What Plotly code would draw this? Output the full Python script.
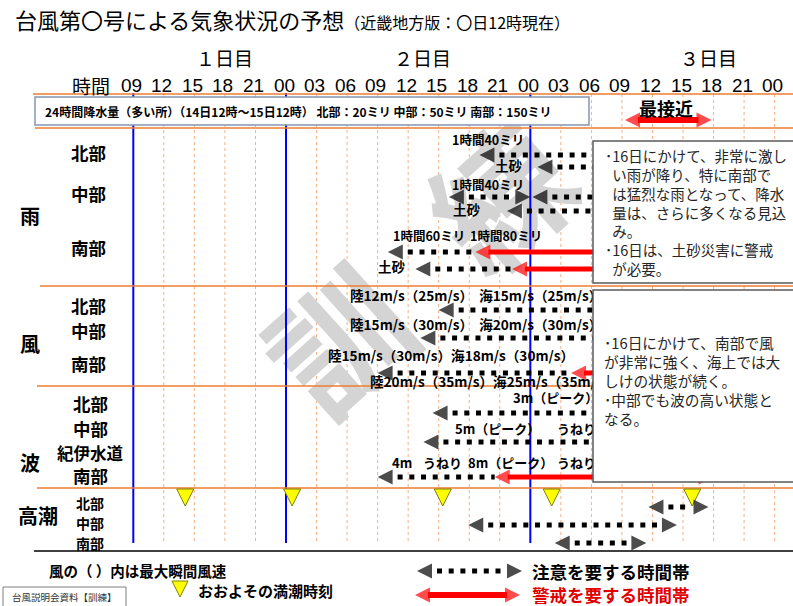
import plotly.graph_objects as go

W, H = 793, 606
PXH = 10.18                    # pixels per hour on the time axis
X_LO = 24 - 286 / PXH          # day-2 00:00 sits at x = 286 px
X_HI = X_LO + W / PXH
JP = "Noto Sans CJK JP"
NUM = "Liberation Sans Narrow, Liberation Sans, sans-serif"
ORANGE = "#ed7d31"
GRID = "#f4b183"
RED = "#ff0000"
BLUE = "#0000ff"

# ── time axis ──
tick_hours = [9, 12, 15, 18, 21, 24, 27, 30, 33, 36, 39, 42, 45, 48, 51, 54, 57, 60, 63, 66, 69, 72]
tick_labels = ['09', '12', '15', '18', '21', '00', '03', '06', '09', '12', '15', '18', '21',
               '00', '03', '06', '09', '12', '15', '18', '21', '00']
day_labels = ['１日目', '２日目', '３日目']
blue_hours = [9, 24, 48]       # 現在 + 日付の変わり目

# ── areas ──
rain_areas = ['北部', '中部', '南部']
wind_areas = ['北部', '中部', '南部']
wave_areas = ['北部', '中部', '紀伊水道', '南部']
tide_areas = ['北部', '中部', '南部']

# ── time bands (hours counted from day-1 00:00) ──
rain_attention = [(43, 66), (48.7, 66), (40, 48), (48.2, 66), (45.7, 66), (34, 42.6), (36.7, 46.2)]
rain_warning = [None, None, None, None, None, (42.6, 66), (46.2, 66)]
wind_attention = [(39, 66), (37.2, 66), (33, 52)]
wind_warning = [None, None, (52, 66)]
wave_attention = [(38.4, 66), (37.5, 66), (33, 44.5)]
wave_warning = [None, None, (44.5, 66)]
tide_attention = [(59.6, 65.5), (41.9, 62.4), (50.4, 59.4)]
high_tide_hours = [14.1, 24.6, 39.4, 50.1, 63.9]
closest_approach = (57.3, 65.8)

# ── notes ──
rain_total = '24時間降水量（多い所）（14日12時～15日12時） 北部：20ミリ 中部：50ミリ 南部：150ミリ'
rain_notes = ['1時間40ミリ', '土砂', '1時間40ミリ', '土砂', '1時間60ミリ', '1時間80ミリ', '土砂']
wind_notes = ['陸12m/s（25m/s）  海15m/s（25m/s）', '陸15m/s（30m/s）  海20m/s（30m/s）',
              '陸15m/s（30m/s）海18m/s（30m/s）', '陸20m/s（35m/s）海25m/s（35m/s）']
wave_notes = ['3m（ピーク）', '5m（ピーク）', 'うねり', '4m', 'うねり', '8m（ピーク）', 'うねり']
rain_comment = ['･16日にかけて、非常に激し', '\u2002い雨が降り、特に南部で', '\u2002は猛烈な雨となって、降水',
                '\u2002量は、さらに多くなる見込', '\u2002み。', '･16日は、土砂災害に警戒', '\u2002が必要。']
wind_comment = ['･16日にかけて、南部で風', 'が非常に強く、海上では大', 'しけの状態が続く。',
                '･中部でも波の高い状態と', 'なる。']

# ── layout positions (px) ──
rain_rows_y = [155, 167, 197, 197, 211, 252, 269]
wind_rows_y = [310, 338, 373]
wave_rows_y = [413, 442, 477]
tide_rows_y = [507, 525, 543]
rain_note_xy = [(452, 142), (495, 168), (452, 187), (453, 212), (393, 238), (470, 238), (378, 269)]
wind_note_xy = [(350, 298), (350, 327), (328, 358), (370, 384)]
wave_note_xy = [(513, 400), (455, 431), (557, 431), (392, 465), (423, 465), (468, 465), (557, 465)]

fig = go.Figure()


def band(x0, x1, y, warn=False, left=True, right=True, xa='x', scale=PXH, width=5):
    head = 15
    color = RED if warn else 'black'
    if warn:
        a = x0 + (head - 2) / scale if left else x0
        b = x1 - (head - 2) / scale if right else x1
        line = dict(color=color, width=width)
    else:
        a = x0 + (head + 5) / scale if left else x0
        b = x1 - (head + 3) / scale if right else x1
        line = dict(color=color, width=5, dash='5px,6.7px')
    fig.add_scatter(x=[a, b], y=[y, y], xaxis=xa, mode='lines', line=line, hoverinfo='skip')
    fig.add_scatter(x=[x0, x1], y=[y, y], xaxis=xa, mode='markers', hoverinfo='skip',
                    marker=dict(symbol=['arrow-left', 'arrow-right'],
                                size=[head if left else 0, head if right else 0],
                                color=color, line_width=0))


def text_trace(xy, texts, size):
    fig.add_scatter(x=[p[0] for p in xy], y=[p[1] for p in xy], xaxis='x2', mode='text',
                    text=texts, textposition='middle right', hoverinfo='skip',
                    textfont=dict(family=JP, size=size, color='black', weight='bold'))


def label(x, y, text, size, bold=True, color='black', xanchor='center', family=JP, xref='x2', xshift=0):
    fig.add_annotation(x=x, y=y, xref=xref, yref='y', text=text, showarrow=False,
                       xanchor=xanchor, yanchor='middle', xshift=xshift,
                       font=dict(family=family, size=size, color=color,
                                 weight='bold' if bold else 'normal'))


# ── background shapes: grid, watermark, day lines, separators ──
shapes = []
for h in tick_hours:
    if h not in blue_hours:
        shapes.append(dict(type='line', xref='x', yref='y', x0=h, x1=h, y0=94, y1=543,
                           line=dict(color=GRID, width=1, dash='dot'), layer='below'))
for ch, cx, cy in [('訓', 350, 352), ('練', 512, 208)]:
    shapes.append(dict(type='rect', xref='x2', yref='y', x0=cx - 60, x1=cx + 60, y0=cy - 60, y1=cy + 60,
                       line=dict(width=0), fillcolor='rgba(0,0,0,0)', layer='below',
                       label=dict(text=ch, textangle=-42, textposition='middle center',
                                  font=dict(family=JP, size=136, color='#d4d4d4', weight='bold'))))
for h in blue_hours:
    shapes.append(dict(type='line', xref='x', yref='y', x0=h, x1=h, y0=93, y1=543,
                       line=dict(color=BLUE, width=2), layer='below'))
for x0, y in [(33, 94), (35, 128), (40, 286), (37, 386), (37, 488)]:
    shapes.append(dict(type='line', xref='x2', yref='y', x0=x0, x1=W, y0=y, y1=y,
                       line=dict(color=ORANGE, width=1.5), layer='below'))
shapes.append(dict(type='line', xref='x2', yref='y', x0=34, x1=W, y0=551, y1=551,
                   line=dict(color='black', width=1.5), layer='below'))

# ── boxes on top of the bands ──
shapes.append(dict(type='rect', xref='x2', yref='y', x0=35, x1=589, y0=97, y1=125,
                   line=dict(color='#8497b0', width=1.5), fillcolor='white', layer='above'))
shapes.append(dict(type='rect', xref='x2', yref='y', x0=593, x1=797, y0=141, y1=283,
                   line=dict(color='#595959', width=1.5), fillcolor='white', layer='above'))
shapes.append(dict(type='rect', xref='x2', yref='y', x0=593, x1=797, y0=290, y1=482,
                   line=dict(color='#595959', width=1.5), fillcolor='white', layer='above'))
shapes.append(dict(type='rect', xref='x2', yref='y', x0=3, x1=126, y0=587, y1=608,
                   line=dict(color='#7f7f7f', width=1), fillcolor='white', layer='above'))

# ── high-tide marks (under the arrows) ──
fig.add_scatter(x=high_tide_hours, y=[506] * len(high_tide_hours), mode='markers', hoverinfo='skip',
                marker=dict(symbol='arrow-down', size=17, color='#ffff00',
                            line=dict(color='#808000', width=1)))

# ── arrows ──
for rows_y, att, warn in [(rain_rows_y, rain_attention, rain_warning),
                          (wind_rows_y, wind_attention, wind_warning),
                          (wave_rows_y, wave_attention, wave_warning)]:
    for y, a, w in zip(rows_y, att, warn):
        band(a[0], a[1], y, right=w is None)
        if w is not None:
            band(w[0], w[1], y, warn=True)
for y, a in zip(tide_rows_y, tide_attention):
    band(a[0], a[1], y)
band(closest_approach[0], closest_approach[1], 120, warn=True, width=6)

# ── notes next to the arrows (drawn under the boxes) ──
text_trace(rain_note_xy, rain_notes, 12.5)
fig.data[-1].textfont.size = [12.5, 13.5, 12.5, 13.5, 12.5, 12.5, 13.5]
text_trace(wind_note_xy, wind_notes, 13.6)
text_trace(wave_note_xy, wave_notes, 13)

# ── legend glyphs ──
band(417, 522, 571, xa='x2', scale=1)
band(415, 520, 595, warn=True, xa='x2', scale=1, width=6)
fig.add_scatter(x=[180], y=[597], xaxis='x2', mode='markers', hoverinfo='skip',
                marker=dict(symbol='arrow-down', size=16, color='#ffff00',
                            line=dict(color='#808000', width=1)))

# ── header ──
label(13, 19, '台風第〇号による気象状況の予想<span style="font-size:16px">（近畿地方版：〇日12時現在）</span>',
      22, bold=False, xanchor='left')
for t, x in zip(day_labels, [224, 422, 708]):
    label(x, 57, t, 19, bold=False)
label(91, 85, '時間', 19, bold=False)
for h, t in zip(tick_hours, tick_labels):
    label(h, 85, t, 19, bold=False, family=NUM, xref='x', xshift=-2)
label(43, 111, rain_total, 12, xanchor='left')
label(666, 108, '最接近', 18)

# ── row labels ──
label(30, 215, '雨', 20)
for t, y in zip(rain_areas, [152, 193, 247]):
    label(88, y, t, 17.5)
label(30, 343, '風', 20)
for t, y in zip(wind_areas, [305, 330, 363]):
    label(88, y, t, 17.5)
label(30, 462, '波', 20)
for t, y in zip(wave_areas, [403, 428, 453, 475]):
    label(90, y, t, 16.5 if len(t) > 2 else 17.5)
label(38, 515, '高潮', 20)
for t, y in zip(tide_areas, [503, 523, 543]):
    label(90, y, t, 14)

# ── comment boxes ──
fig.add_annotation(x=603, y=211.5, xref='x2', yref='y', text='<br>'.join(rain_comment), showarrow=False,
                   xanchor='left', yanchor='middle', align='left',
                   font=dict(family=JP, size=14.5, color='#262626'))
fig.add_annotation(x=602, y=380, xref='x2', yref='y', text='<br>'.join(wind_comment), showarrow=False,
                   xanchor='left', yanchor='middle', align='left',
                   font=dict(family=JP, size=14.7, color='#262626'))

# ── legend texts ──
label(47, 570, '風の（ ）内は最大瞬間風速', 14.5, xanchor='left')
label(196, 590, 'おおよその満潮時刻', 15, xanchor='left')
label(530, 571, '注意を要する時間帯', 17.5, xanchor='left')
label(530, 594, '警戒を要する時間帯', 17.5, xanchor='left', color='#e00000')
label(64, 597, '台風説明会資料【訓練】', 9.5, bold=False, color='#333333')

fig.update_layout(
    width=W, height=H, margin=dict(l=0, r=0, t=0, b=0),
    paper_bgcolor='white', plot_bgcolor='white', showlegend=False,
    xaxis=dict(range=[X_LO, X_HI], visible=False, fixedrange=True),
    xaxis2=dict(range=[0, W], overlaying='x', visible=False, fixedrange=True),
    yaxis=dict(range=[H, 0], visible=False, fixedrange=True),
    shapes=shapes,
)
fig.write_html("out.html", config={'displayModeBar': False},
               post_script="document.body.style.margin='0';")
